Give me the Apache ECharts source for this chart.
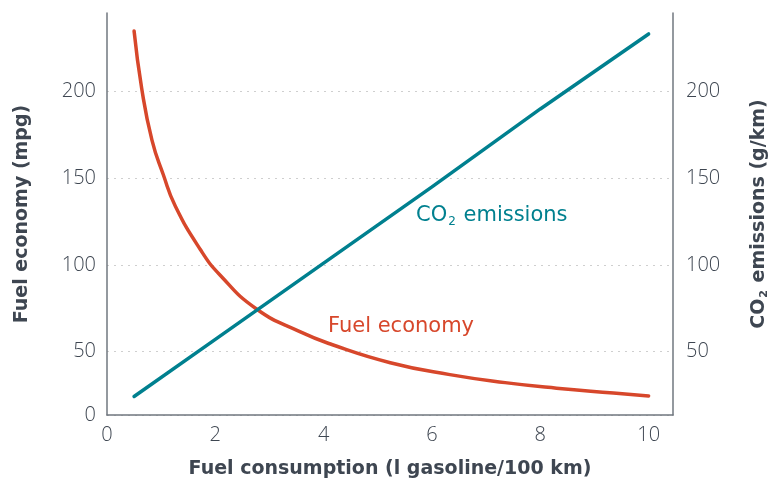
<!DOCTYPE html>
<html>
<head>
<meta charset="utf-8">
<script src="https://cdn.jsdelivr.net/npm/echarts@6/dist/echarts.min.js"></script>
<style>
  html, body { margin: 0; padding: 0; background: #fff; }
  #chart { width: 771px; height: 483px; }
</style>
</head>
<body>
<div id="chart"></div>
<script>
// fuel consumption (l/100 km) -> fuel economy (mpg)
const economyX = [0.5, 0.64, 0.83, 1.04, 1.26, 1.72, 2.09, 2.76, 3.56, 4.15, 5.23, 6.33, 7.35, 8.3, 9.35, 10]
const economyY = [235, 202, 172, 152, 134, 109, 94, 74.5, 61.4, 54, 43.5, 36.6, 32, 28.8, 26, 24.3]
// fuel consumption -> CO2 (g/km)
const co2X = [0.5, 2, 4, 6, 8, 10]
const co2Y = [24, 57, 101, 145, 190, 233.3]
const xTicks = [0, 2, 4, 6, 8, 10]
const yTicks = [50, 100, 150, 200]

const yMin = 13.3
const yMax = 245.4
const textColor = '#3e4651'
const tickFont = 'Open Sans'
const titleFont = 'DejaVu Sans'
const orange = '#d7472b'
const teal = '#00808f'

const chart = echarts.init(document.getElementById('chart'))

const leftTicks = [yMin].concat(yTicks)
const tickLabel = { color: textColor, fontSize: 20, fontWeight: 300, fontFamily: tickFont }
const titleStyle = { color: textColor, fontSize: 19, fontWeight: 'bold', fontFamily: titleFont }

const option = {
  backgroundColor: '#fff',
  animation: false,
  grid: { left: 107, right: 98, top: 13, bottom: 68, outerBoundsMode: 'none', containLabel: false },
  xAxis: {
    type: 'value',
    min: 0,
    max: 10.45,
    interval: 2,
    name: 'Fuel consumption (l gasoline/100 km)',
    nameLocation: 'middle',
    nameGap: 45,
    nameTextStyle: titleStyle,
    axisLine: { lineStyle: { color: '#70777f', width: 1.5 } },
    axisTick: { show: false },
    splitLine: { show: false },
    axisLabel: Object.assign({ margin: 10, customValues: xTicks }, tickLabel)
  },
  yAxis: [{
    type: 'value',
    min: yMin,
    max: yMax,
    name: 'Fuel economy (mpg)',
    nameLocation: 'middle',
    nameGap: 75,
    nameTextStyle: titleStyle,
    axisLine: { show: true, lineStyle: { color: '#70777f', width: 1.5 } },
    axisTick: { show: false, customValues: leftTicks },
    splitLine: { show: true, lineStyle: { color: '#cfcfcf', type: [2, 5], width: 1.2 } },
    axisLabel: Object.assign({
      margin: 11,
      customValues: leftTicks,
      formatter: v => (v < 20 ? '0' : String(v))
    }, tickLabel)
  }, {
    type: 'value',
    position: 'right',
    min: yMin,
    max: yMax,
    name: '{b|CO}{s|2}{b| emissions (g/km)}',
    nameLocation: 'middle',
    nameGap: 75,
    nameTextStyle: {
      rich: {
        b: titleStyle,
        s: { color: textColor, fontSize: 11, fontWeight: 'bold', fontFamily: titleFont, padding: [11, 1, 0, 1] }
      }
    },
    axisLine: { show: true, lineStyle: { color: '#70777f', width: 1.5 } },
    axisTick: { show: false, customValues: yTicks },
    splitLine: { show: false },
    axisLabel: Object.assign({ margin: 13, customValues: yTicks }, tickLabel)
  }],
  series: [{
    name: 'Fuel economy',
    type: 'line',
    yAxisIndex: 0,
    data: economyX.map((x, i) => [x, economyY[i]]),
    showSymbol: false,
    smooth: 0.5,
    lineStyle: { color: orange, width: 3.5, cap: 'round' },
    z: 3
  }, {
    name: 'CO2 emissions',
    type: 'line',
    yAxisIndex: 1,
    data: co2X.map((x, i) => [x, co2Y[i]]),
    showSymbol: false,
    lineStyle: { color: teal, width: 3.5, cap: 'round' },
    z: 4
  }],
  graphic: [{
    type: 'text',
    left: 416,
    top: 205,
    style: {
      text: '{a|CO}{s|2}{a| emissions}',
      rich: {
        a: { fill: teal, fontSize: 21, fontFamily: titleFont },
        s: { fill: teal, fontSize: 12, fontFamily: titleFont, padding: [13, 1, 0, 1] }
      }
    }
  }, {
    type: 'text',
    left: 328,
    top: 316,
    style: {
      text: 'Fuel economy',
      fill: orange,
      fontSize: 21,
      fontFamily: titleFont
    }
  }]
}

chart.setOption(option)
</script>
</body>
</html>
